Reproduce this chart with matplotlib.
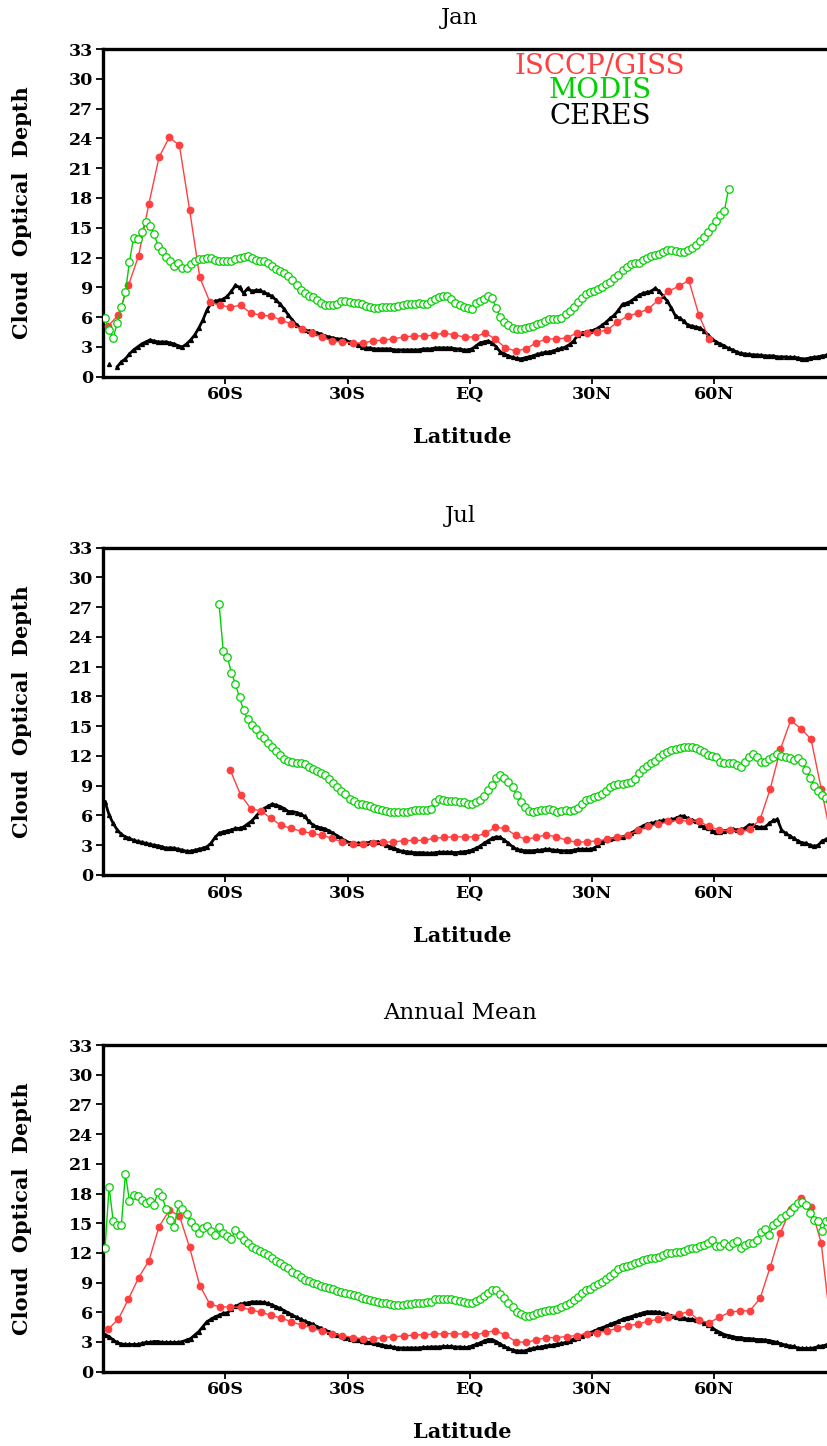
import numpy as np
import matplotlib
matplotlib.use("Agg")
import matplotlib.pyplot as plt

# latitude tick labels
tick_lats = [-60, -30, 0, 30, 60]
tick_names = ["60S", "30S", "EQ", "30N", "60N"]
y_ticks = list(range(0, 34, 3))

# ISCCP/GISS on a 2.5 deg grid, MODIS and CERES on a 1 deg grid
isccp_step = 2.5
grid_step = 1.0

# ---------------- Jan ----------------
jan_isccp_start = -88.75
jan_isccp = [5.1, 6.2, 9.2, 12.2, 17.4, 22.1, 24.1, 23.3, 16.8, 10.0,
             7.5, 7.2, 7.0, 7.2, 6.4, 6.2, 6.1, 5.7, 5.3, 4.8,
             4.4, 4.0, 3.6, 3.5, 3.4, 3.4, 3.6, 3.7, 3.8, 4.0,
             4.1, 4.1, 4.2, 4.4, 4.2, 4.0, 4.0, 4.4, 3.8, 2.9,
             2.6, 2.8, 3.4, 3.8, 3.8, 3.9, 4.4, 4.4, 4.5, 4.7,
             5.5, 6.1, 6.4, 6.8, 7.7, 8.6, 9.1, 9.7, 6.2, 3.8]

jan_modis_start = -89.5
jan_modis = [5.9, 4.7, 3.9, 5.4, 7.0, 8.5, 11.6, 14.0, 13.9, 14.6,
             15.6, 15.2, 14.4, 13.2, 12.7, 12.1, 11.7, 11.1, 11.4, 10.9,
             10.9, 11.3, 11.7, 11.9, 11.9, 12.0, 12.0, 11.8, 11.7, 11.7,
             11.7, 11.7, 11.9, 12.0, 12.1, 12.2, 12.0, 11.8, 11.7, 11.7,
             11.5, 11.1, 10.8, 10.6, 10.4, 10.1, 9.7, 9.2, 8.7, 8.4,
             8.1, 8.0, 7.7, 7.4, 7.2, 7.2, 7.2, 7.3, 7.6, 7.6,
             7.5, 7.4, 7.4, 7.3, 7.1, 7.0, 6.9, 6.9, 7.0, 7.0,
             7.0, 7.0, 7.1, 7.2, 7.3, 7.3, 7.3, 7.4,
             7.3, 7.3, 7.6, 7.8, 8.0, 8.1, 8.1, 7.8, 7.4, 7.2,
             7.0, 6.9, 6.8, 7.4, 7.6, 7.8, 8.1, 7.9, 6.9, 6.0,
             5.5, 5.2, 4.9, 4.8, 4.8, 4.9, 5.0, 5.1, 5.3, 5.4,
             5.6, 5.8, 5.8, 5.8, 5.9, 6.3, 6.6, 7.0, 7.5, 7.9,
             8.3, 8.5, 8.6, 8.8, 9.0, 9.3, 9.5, 9.9, 10.2, 10.7,
             11.0, 11.3, 11.4, 11.5, 11.8, 12.0, 12.2, 12.3, 12.4, 12.6,
             12.8, 12.8, 12.7, 12.6, 12.6, 12.8, 13.0, 13.3, 13.7, 14.1,
             14.6, 15.1, 15.7, 16.3, 16.7, 18.9]

jan_ceres_start = -89.5
jan_ceres = [np.nan, 1.3, np.nan, 1.0, 1.5, 1.8, 2.3, 2.7, 3.0, 3.3,
             3.5, 3.7, 3.6, 3.5, 3.5, 3.5, 3.4, 3.3, 3.1, 3.0,
             3.3, 3.7, 4.2, 4.9, 5.7, 6.7, 7.4, 7.6, 7.7, 7.8,
             8.1, 8.6, 9.2, 9.0, 8.4, 8.9, 8.6, 8.7, 8.7, 8.5,
             8.3, 8.1, 7.7, 7.3, 6.8, 6.2, 5.7, 5.2, 4.9, 4.7,
             4.6, 4.6, 4.4, 4.3, 4.1, 4.0, 3.9, 3.8, 3.8, 3.7,
             3.5, 3.4, 3.2, 3.0, 2.9, 2.9, 2.8, 2.8, 2.8, 2.8,
             2.8, 2.7, 2.7, 2.7, 2.7, 2.7, 2.7, 2.7, 2.8, 2.8,
             2.8, 2.9, 2.9, 2.9, 2.9, 2.9, 2.8, 2.8, 2.7, 2.7,
             2.8, 3.1, 3.4, 3.5, 3.6, 3.4, 3.0, 2.5, 2.3, 2.1,
             1.95, 1.85, 1.8, 1.9, 2.0, 2.1, 2.25, 2.35, 2.45, 2.5,
             2.6, 2.75, 2.85, 3.0, 3.25, 3.6, 4.2, 4.4, 4.5, 4.6,
             4.7, 4.9, 5.2, 5.5, 5.9, 6.2, 6.7, 7.3, 7.4, 7.6,
             7.9, 8.2, 8.4, 8.5, 8.6, 8.9, 8.6, 8.1, 7.6, 6.9,
             6.1, 5.9, 5.6, 5.2, 5.1, 5.0, 4.9, 4.6, 4.2, 3.8,
             3.5, 3.3, 3.1, 2.85, 2.7, 2.5, 2.35, 2.3, 2.25, 2.2,
             2.2, 2.15, 2.1, 2.1, 2.1, 2.0, 2.0, 2.0, 1.95, 1.95,
             1.9, 1.8, 1.8, 1.9, 1.95, 2.0, 2.1, 2.15, 2.2, 2.2]

# ---------------- Jul ----------------
jul_isccp_start = -58.75
jul_isccp = [10.55, 8.1, 6.7, 6.45, 5.7, 5.0, 4.7, 4.4, 4.2, 4.0,
             3.7, 3.3, 3.1, 3.1, 3.2, 3.3, 3.35, 3.45, 3.5, 3.5,
             3.7, 3.8, 3.85, 3.85, 3.85, 4.2, 4.8, 4.7, 4.0, 3.6,
             3.8, 4.05, 3.85, 3.5, 3.3, 3.35, 3.45, 3.6, 3.8, 4.0,
             4.5, 4.9, 5.1, 5.4, 5.5, 5.45, 5.4, 4.9, 4.5, 4.5,
             4.4, 4.6, 5.6, 8.7, 12.7, 15.6, 14.75, 13.7, 8.7, 3.7]

jul_modis_start = -61.5
jul_modis = [27.3, 22.6, 22.0, 20.4, 19.25, 17.9, 16.6, 15.7, 15.1, 14.7,
             14.1, 13.8, 13.3, 12.9, 12.5, 12.1, 11.7, 11.5, 11.4, 11.3,
             11.25, 11.2, 10.9, 10.7, 10.5, 10.3, 10.1, 9.7, 9.3, 8.9,
             8.5, 8.2, 7.7, 7.5, 7.2, 7.15, 7.05, 6.95, 6.8, 6.7,
             6.6, 6.5, 6.4, 6.35, 6.4, 6.4, 6.4, 6.45, 6.55, 6.6,
             6.55, 6.6, 6.7, 7.4, 7.7, 7.6, 7.45, 7.45, 7.45, 7.4,
             7.4, 7.15, 7.15, 7.4, 7.6, 7.95, 8.6, 9.1, 9.75, 10.1,
             9.75, 9.4, 8.9, 8.05, 7.4, 6.9, 6.5, 6.4, 6.45, 6.55,
             6.6, 6.7, 6.55, 6.4, 6.45, 6.55, 6.45, 6.6, 6.8, 7.15,
             7.55, 7.7, 7.9, 7.95, 8.2, 8.5, 8.85, 9.05, 9.15, 9.2,
             9.25, 9.35, 9.65, 10.25, 10.65, 11.0, 11.25, 11.5, 11.85, 12.2,
             12.4, 12.6, 12.75, 12.85, 12.95, 12.95, 12.95, 12.85, 12.65, 12.4,
             12.1, 12.0, 11.85, 11.4, 11.25, 11.25, 11.3, 11.1, 10.9, 11.4,
             11.9, 12.2, 11.85, 11.4, 11.4, 11.65, 11.85, 12.25, 12.0, 11.9,
             11.8, 11.6, 11.75, 11.4, 10.6, 9.8, 9.0, 8.5, 8.1, 7.8,
             7.5, 7.2]

jul_ceres_start = -89.5
jul_ceres = [7.4, 6.05, 5.2, 4.55, 4.1, 3.85, 3.7, 3.5, 3.4, 3.3,
             3.2, 3.1, 3.0, 2.95, 2.85, 2.7, 2.75, 2.7, 2.6, 2.5,
             2.4, 2.4, 2.5, 2.6, 2.7, 2.85, 3.2, 3.8, 4.2, 4.35,
             4.45, 4.55, 4.7, 4.7, 4.85, 5.15, 5.45, 5.9, 6.4, 6.7,
             6.95, 7.15, 7.05, 6.9, 6.7, 6.4, 6.4, 6.3, 6.15, 5.9,
             5.4, 5.05, 4.85, 4.75, 4.65, 4.45, 4.2, 3.95, 3.7, 3.45,
             3.25, 3.2, 3.2, 3.2, 3.2, 3.3, 3.35, 3.35, 3.2, 3.0,
             2.85, 2.7, 2.5, 2.4, 2.35, 2.3, 2.25, 2.25, 2.25, 2.2,
             2.2, 2.25, 2.3, 2.3, 2.3, 2.3, 2.25, 2.3, 2.35, 2.4,
             2.5, 2.7, 2.9, 3.2, 3.45, 3.7, 3.85, 3.8, 3.5, 3.2,
             2.85, 2.6, 2.5, 2.45, 2.45, 2.45, 2.5, 2.5, 2.6, 2.6,
             2.5, 2.5, 2.45, 2.45, 2.45, 2.5, 2.6, 2.6, 2.6, 2.6,
             2.7, 3.0, 3.35, 3.5, 3.6, 3.7, 3.8, 3.85, 4.0, 4.2,
             4.45, 4.7, 4.95, 5.15, 5.2, 5.3, 5.4, 5.5, 5.55, 5.6,
             5.7, 5.9, 5.95, 5.7, 5.55, 5.4, 5.05, 4.85, 4.7, 4.45,
             4.35, 4.35, 4.45, 4.55, 4.6, 4.55, 4.6, 4.7, 5.05, 5.05,
             4.85, 4.8, 4.85, 5.2, 5.5, 5.6, 4.55, 4.2, 3.95, 3.7,
             3.45, 3.25, 3.2, 3.0, 2.9, 3.0, 3.45, 3.6, 3.6, 3.6]

# ---------------- Annual Mean ----------------
ann_isccp_start = -88.75
ann_isccp = [4.3, 5.3, 7.35, 9.5, 11.2, 14.65, 16.3, 15.75, 12.55, 8.7,
             6.8, 6.55, 6.55, 6.5, 6.25, 6.0, 5.7, 5.4, 5.05, 4.7,
             4.45, 4.1, 3.85, 3.65, 3.45, 3.35, 3.35, 3.45, 3.55, 3.6,
             3.7, 3.75, 3.8, 3.85, 3.85, 3.8, 3.7, 3.95, 4.15, 3.7,
             3.05, 2.95, 3.2, 3.45, 3.45, 3.55, 3.65, 3.85, 3.95, 4.1,
             4.4, 4.65, 4.8, 5.1, 5.3, 5.55, 5.8, 6.05, 5.2, 4.95,
             5.5, 6.0, 6.15, 6.15, 7.4, 10.6, 14.05, 16.4, 17.5, 16.6,
             13.0, 4.0]

ann_modis_start = -89.5
ann_modis = [12.45, 18.7, 15.2, 14.8, 14.8, 20.0, 17.2, 17.85, 17.7, 17.35,
             17.05, 17.2, 16.85, 18.2, 17.7, 16.4, 15.3, 14.6, 16.9, 16.4,
             15.9, 15.15, 14.6, 14.0, 14.5, 14.7, 14.25, 13.8, 14.6, 14.0,
             13.7, 13.45, 14.3, 13.8, 13.35, 12.95, 12.55, 12.35, 12.2, 11.95,
             11.8, 11.5, 11.2, 10.95, 10.7, 10.45, 10.1, 9.85, 9.6, 9.3,
             9.15, 9.0, 8.85, 8.7, 8.6, 8.5, 8.35, 8.2, 8.1, 8.0,
             7.85, 7.7, 7.6, 7.4, 7.3, 7.25, 7.15, 7.05, 6.95, 6.9,
             6.85, 6.75, 6.75, 6.75, 6.8, 6.85, 6.9, 6.95, 6.95, 7.0,
             7.05, 7.3, 7.35, 7.35, 7.35, 7.35, 7.25, 7.15, 7.05, 6.9,
             6.9, 7.15, 7.3, 7.6, 7.9, 8.25, 8.25, 7.85, 7.4, 6.95,
             6.5, 6.05, 5.8, 5.65, 5.65, 5.7, 5.9, 6.05, 6.15, 6.25,
             6.25, 6.3, 6.5, 6.75, 6.95, 7.25, 7.55, 7.9, 8.25, 8.4,
             8.65, 8.85, 9.1, 9.35, 9.65, 10.0, 10.35, 10.55, 10.65, 10.75,
             10.95, 11.1, 11.3, 11.35, 11.45, 11.5, 11.6, 11.8, 11.95, 12.0,
             12.05, 12.1, 12.2, 12.35, 12.45, 12.5, 12.65, 12.8, 13.05, 13.3,
             12.7, 12.65, 13.05, 12.7, 12.95, 13.25, 12.45, 12.8, 13.05, 12.95,
             13.35, 14.15, 14.4, 13.8, 14.8, 15.15, 15.5, 15.8, 16.15, 16.6,
             17.0, 17.1, 16.8, 16.0, 15.3, 15.2, 14.2, 15.2, 15.4, 15.4]

ann_ceres_start = -89.5
ann_ceres = [3.75, 3.55, 3.2, 2.95, 2.8, 2.75, 2.75, 2.75, 2.75, 2.85,
             2.95, 2.95, 3.05, 3.05, 2.95, 2.95, 2.95, 2.95, 2.95, 3.05,
             3.2, 3.35, 3.7, 4.05, 4.55, 5.05, 5.3, 5.55, 5.7, 5.9,
             5.95, 6.3, 6.6, 6.8, 6.9, 6.95, 7.05, 7.05, 7.05, 7.0,
             6.9, 6.75, 6.55, 6.4, 6.15, 5.95, 5.7, 5.5, 5.3, 5.1,
             4.95, 4.8, 4.55, 4.4, 4.2, 4.05, 3.85, 3.7, 3.6, 3.45,
             3.35, 3.25, 3.2, 3.15, 3.05, 2.95, 2.85, 2.8, 2.7, 2.6,
             2.55, 2.45, 2.4, 2.4, 2.4, 2.4, 2.4, 2.4, 2.45, 2.45,
             2.5, 2.5, 2.5, 2.55, 2.55, 2.55, 2.5, 2.5, 2.45, 2.45,
             2.6, 2.75, 2.9, 3.1, 3.25, 3.25, 3.05, 2.8, 2.55, 2.35,
             2.2, 2.1, 2.1, 2.1, 2.25, 2.35, 2.45, 2.5, 2.6, 2.65,
             2.7, 2.8, 2.85, 2.95, 3.15, 3.3, 3.45, 3.65, 3.8, 3.95,
             4.1, 4.3, 4.45, 4.6, 4.8, 4.95, 5.1, 5.3, 5.45, 5.55,
             5.7, 5.8, 5.95, 6.05, 6.05, 6.05, 6.0, 5.9, 5.8, 5.65,
             5.55, 5.45, 5.4, 5.3, 5.3, 5.2, 5.1, 4.95, 4.7, 4.45,
             4.15, 3.95, 3.75, 3.65, 3.55, 3.45, 3.45, 3.35, 3.35, 3.3,
             3.25, 3.25, 3.2, 3.15, 3.05, 2.95, 2.8, 2.7, 2.6, 2.55,
             2.4, 2.35, 2.35, 2.35, 2.4, 2.55, 2.6, 2.7, 2.7, 2.7]

RED = "#ff4040"
GREEN = "#00d000"
SERIF = "DejaVu Serif"

W, H = 827, 1446
fig = plt.figure(figsize=(W / 100, H / 100), dpi=100)

# panel boxes in pixels: top of axes, bottom of axes, title y, xlabel y
panels = [
    ("Jan", 49, 376.7, 18, 437,
     (jan_isccp_start, jan_isccp), (jan_modis_start, jan_modis), (jan_ceres_start, jan_ceres)),
    ("Jul", 547.7, 875, 516, 936,
     (jul_isccp_start, jul_isccp), (jul_modis_start, jul_modis), (jul_ceres_start, jul_ceres)),
    ("Annual Mean", 1045, 1371.7, 1013, 1432,
     (ann_isccp_start, ann_isccp), (ann_modis_start, ann_modis), (ann_ceres_start, ann_ceres)),
]

ax_left = 103
ax_width = 733.5


def lats(start, values, step):
    return start + step * np.arange(len(values))


for i, (title, top, bot, ty, xly, isc, mod, cer) in enumerate(panels):
    ax = fig.add_axes([ax_left / W, 1 - bot / H, ax_width / W, (bot - top) / H])

    ax.plot(lats(cer[0], cer[1], grid_step), cer[1], color="black", lw=2.0,
            marker="^", ms=2.8, mec="black", mfc="black", zorder=2)
    ax.plot(lats(isc[0], isc[1], isccp_step), isc[1], color=RED, lw=1.0,
            marker="o", ms=4.6, mec=RED, mfc=RED, zorder=3)
    ax.plot(lats(mod[0], mod[1], grid_step), mod[1], color=GREEN, lw=1.0,
            marker="o", ms=5.4, mfc="white", mec=GREEN, mew=0.9, zorder=4)

    ax.set_xlim(-90, 90)
    ax.set_ylim(0, 33)
    ax.set_xticks(tick_lats)
    ax.set_xticklabels(tick_names)
    ax.set_yticks(y_ticks)
    ax.tick_params(axis="both", direction="out", length=5, width=1.3,
                   labelsize=12.5, pad=2)
    for lab in ax.get_xticklabels() + ax.get_yticklabels():
        lab.set_fontfamily(SERIF)
        lab.set_fontweight("bold")
    for sp in ax.spines.values():
        sp.set_linewidth(2.4)

    fig.text(460 / W, 1 - ty / H, title, ha="center", va="center",
             fontsize=16.5, family=SERIF)
    fig.text(462 / W, 1 - xly / H, "Latitude", ha="center", va="center",
             fontsize=15, family=SERIF, fontweight="bold")
    fig.text(22 / W, 1 - (top + bot) / 2 / H, "Cloud  Optical  Depth",
             ha="center", va="center", rotation=90, fontsize=15,
             family=SERIF, fontweight="bold")

    if i == 0:
        lx = (600 - ax_left) / ax_width
        for txt, col, py in [("ISCCP/GISS", RED, 66), ("MODIS", GREEN, 91),
                             ("CERES", "black", 116)]:
            ax.text(lx, (bot - py) / (bot - top), txt, color=col, ha="center",
                    va="center", fontsize=20, family=SERIF,
                    transform=ax.transAxes)

fig.savefig("out.png", dpi=100)
